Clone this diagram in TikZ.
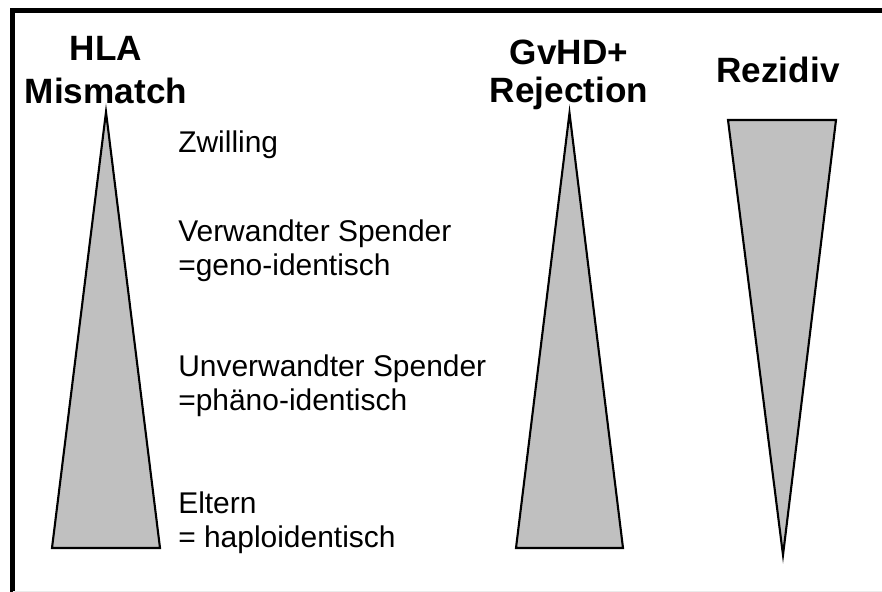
\documentclass[tikz,border=0pt]{standalone}
\usepackage{fontspec}
\setmainfont{Liberation Sans}
\usepackage{tikz}
\usetikzlibrary{positioning}
\definecolor{wedgegray}{HTML}{C0C0C0}
\newcommand{\basey}{548}
\newcommand{\labx}{178}
\tikzset{
  wedge/.style={draw=black, fill=wedgegray, line width=1.5pt, line join=miter},
  heading/.style={align=center, anchor=base, inner sep=0pt, font=\bfseries\fontsize{25}{30.5}\selectfont},
  donor/.style={align=left, anchor=base west, inner sep=0pt, font=\fontsize{21.3}{24}\selectfont}
}

\begin{document}
\begin{tikzpicture}[x=0.025cm, y=-0.025cm]
\useasboundingbox (0,0) rectangle (882,592);

% frame
\draw[line width=3.6pt] (12.5,592) -- (12.5,10.5) -- (882,10.5);
\draw[black!8, line width=0.7pt] (12.5,591.5) -- (882,591.5);

% wedges
\draw[wedge] (52,\basey) -- (106,112) -- (160,\basey) -- cycle;
\draw[wedge] (516,\basey) -- (569.5,113) -- (623,\basey) -- cycle;
\draw[wedge] (728,120) -- (836,120) -- (783,555) -- cycle;

% headings (base = last line)
\node[heading] (hla) at (106,103) {HLA\\Mismatch};
\node[heading, font=\bfseries\fontsize{25}{26.5}\selectfont] (gvhd) at (569,102) {GvHD+\\Rejection};
\node[heading] (rezidiv) at (778,82) {Rezidiv};

% donors
\node[donor] (zwilling) at (\labx,152) {Zwilling};
\node[donor] (verwandt) at (\labx,275) {Verwandter Spender\\=geno-identisch};
\node[donor] (unverwandt) at (\labx,410) {Unverwandter Spender\\=phäno-identisch};
\node[donor] (eltern) at (\labx,547) {Eltern\\= haploidentisch};

\end{tikzpicture}
\end{document}
